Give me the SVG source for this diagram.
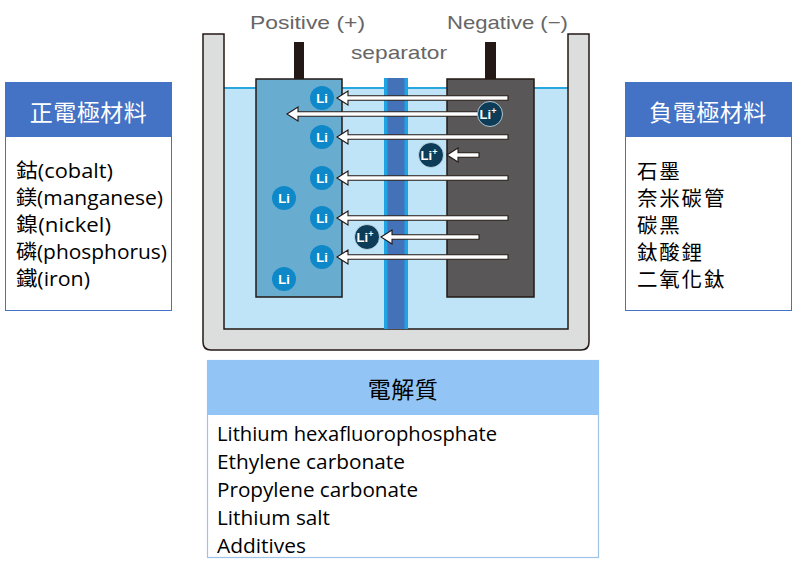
<svg xmlns="http://www.w3.org/2000/svg" width="792" height="572" viewBox="0 0 792 572">
<style>
.lbl{font-family:"Liberation Sans",Arial,sans-serif;font-size:19px;fill:#666}
.li{fill:#0e88c8}
.lip{fill:#0c3c58;stroke:#cfe6f2;stroke-width:0.8}
.lt{font-family:"Liberation Sans",Arial,sans-serif;font-weight:bold;font-size:13px;fill:#fff;text-anchor:middle}
.arr{fill:#fff;stroke:#231815;stroke-width:1.1;stroke-linejoin:miter}
.hd{font-family:"Open Sans","Noto Sans CJK TC",sans-serif;font-size:23px;letter-spacing:0.5px;text-anchor:middle}
.bd{font-family:"Open Sans","Noto Sans CJK TC",sans-serif;font-size:20px;fill:#000}
.cj{font-family:"Open Sans","Noto Sans CJK TC",sans-serif;font-size:20.5px;letter-spacing:1.8px;fill:#000}
</style>

<g id="cell">
<rect x="224" y="88" width="344" height="241" fill="#bfe4f8"/>
<line x1="224" y1="88" x2="568" y2="88" stroke="#2aa6df" stroke-width="2"/>
<path d="M203,34 L203,342 Q203,350 211,350 L581,350 Q589,350 589,342 L589,34 L568,34 L568,329 L224,329 L224,34 Z" fill="#dcdddd" stroke="#231815" stroke-width="1.5"/>
</g>

<g id="separator">
<rect x="384" y="78" width="24" height="251" fill="#1fa3e3"/>
<rect x="387.5" y="78" width="17" height="251" fill="#4472b8"/>
</g>

<g id="positive">
<rect x="294" y="42" width="10" height="37" fill="#231815"/>
<rect x="256" y="79" width="86" height="218" fill="#68acd0" stroke="#231815" stroke-width="1.5"/>
</g>

<g id="negative">
<rect x="485" y="42" width="11" height="37" fill="#231815"/>
<rect x="447" y="79" width="87" height="218" fill="#595757" stroke="#231815" stroke-width="1.5"/>
</g>

<g id="labels">
<text class="lbl" x="250" y="29" textLength="115" lengthAdjust="spacingAndGlyphs">Positive (+)</text>
<text class="lbl" x="447" y="29" textLength="121" lengthAdjust="spacingAndGlyphs">Negative (−)</text>
<text class="lbl" x="351" y="59" textLength="96" lengthAdjust="spacingAndGlyphs">separator</text>
</g>

<g id="connectors">
<path class="arr" d="M337,98 L348,91 L348,95.7 L508,95.7 L508,100.3 L348,100.3 L348,105 Z"/>
<path class="arr" d="M287,114 L298,107 L298,111.7 L480,111.7 L480,116.3 L298,116.3 L298,121 Z"/>
<path class="arr" d="M337,137 L348,130 L348,134.7 L508,134.7 L508,139.3 L348,139.3 L348,144 Z"/>
<path class="arr" d="M447,155 L458,148 L458,152.7 L479,152.7 L479,157.3 L458,157.3 L458,162 Z"/>
<path class="arr" d="M337,178 L348,171 L348,175.7 L508,175.7 L508,180.3 L348,180.3 L348,185 Z"/>
<path class="arr" d="M337,218 L348,211 L348,215.7 L508,215.7 L508,220.3 L348,220.3 L348,225 Z"/>
<path class="arr" d="M381,237 L392,230 L392,234.7 L479,234.7 L479,239.3 L392,239.3 L392,244 Z"/>
<path class="arr" d="M337,257 L348,250 L348,254.7 L508,254.7 L508,259.3 L348,259.3 L348,264 Z"/>
</g>

<g id="li-atoms">
<circle class="li" cx="322" cy="98" r="12"/><text class="lt" x="322" y="102.5">Li</text>
<circle class="li" cx="322" cy="137" r="12"/><text class="lt" x="322" y="141.5">Li</text>
<circle class="li" cx="322" cy="178" r="12"/><text class="lt" x="322" y="182.5">Li</text>
<circle class="li" cx="322" cy="218" r="12"/><text class="lt" x="322" y="222.5">Li</text>
<circle class="li" cx="322" cy="257" r="12"/><text class="lt" x="322" y="261.5">Li</text>
<circle class="li" cx="284" cy="198" r="12"/><text class="lt" x="284" y="202.5">Li</text>
<circle class="li" cx="284" cy="279" r="12"/><text class="lt" x="284" y="283.5">Li</text>
</g>

<g id="li-ions">
<circle class="lip" cx="490" cy="114" r="12.5"/><text class="lt" x="488" y="118.5">Li<tspan font-size="9" dy="-5">+</tspan></text>
<circle class="lip" cx="431" cy="155" r="12.5"/><text class="lt" x="429" y="159.5">Li<tspan font-size="9" dy="-5">+</tspan></text>
<circle class="lip" cx="367" cy="237" r="12.5"/><text class="lt" x="365" y="241.5">Li<tspan font-size="9" dy="-5">+</tspan></text>
</g>

<g id="cathode-box">
<rect x="5.5" y="82.5" width="166" height="228" fill="#fff" stroke="#4472c4" stroke-width="1"/>
<rect x="5" y="82" width="167" height="55" fill="#4472c4"/>
<text class="hd" x="88.5" y="121" fill="#fff">正電極材料</text>
<text class="bd" x="16" y="178" textLength="97" lengthAdjust="spacingAndGlyphs">鈷(cobalt)</text>
<text class="bd" x="16" y="205" textLength="147" lengthAdjust="spacingAndGlyphs">鎂(manganese)</text>
<text class="bd" x="16" y="232" textLength="95" lengthAdjust="spacingAndGlyphs">鎳(nickel)</text>
<text class="bd" x="16" y="259" textLength="151" lengthAdjust="spacingAndGlyphs">磷(phosphorus)</text>
<text class="bd" x="16" y="286" textLength="74" lengthAdjust="spacingAndGlyphs">鐵(iron)</text>
</g>

<g id="anode-box">
<rect x="625.5" y="82.5" width="166" height="228" fill="#fff" stroke="#4472c4" stroke-width="1"/>
<rect x="625" y="82" width="167" height="55" fill="#4472c4"/>
<text class="hd" x="708" y="121" fill="#fff">負電極材料</text>
<text class="cj" x="637" y="179">石墨</text>
<text class="cj" x="637" y="206">奈米碳管</text>
<text class="cj" x="637" y="233">碳黑</text>
<text class="cj" x="637" y="260">鈦酸鋰</text>
<text class="cj" x="637" y="287">二氧化鈦</text>
</g>

<g id="electrolyte-box">
<rect x="207.5" y="360.5" width="391" height="197" fill="#fff" stroke="#9dc3e6" stroke-width="1.2"/>
<rect x="207" y="360" width="392" height="55" fill="#92c5f5"/>
<text class="hd" x="403" y="398" fill="#000">電解質</text>
<text class="bd" x="217" y="441" textLength="280" lengthAdjust="spacingAndGlyphs">Lithium hexafluorophosphate</text>
<text class="bd" x="217" y="469" textLength="188" lengthAdjust="spacingAndGlyphs">Ethylene carbonate</text>
<text class="bd" x="217" y="497" textLength="201" lengthAdjust="spacingAndGlyphs">Propylene carbonate</text>
<text class="bd" x="217" y="525" textLength="113" lengthAdjust="spacingAndGlyphs">Lithium salt</text>
<text class="bd" x="217" y="553" textLength="89" lengthAdjust="spacingAndGlyphs">Additives</text>
</g>
</svg>
